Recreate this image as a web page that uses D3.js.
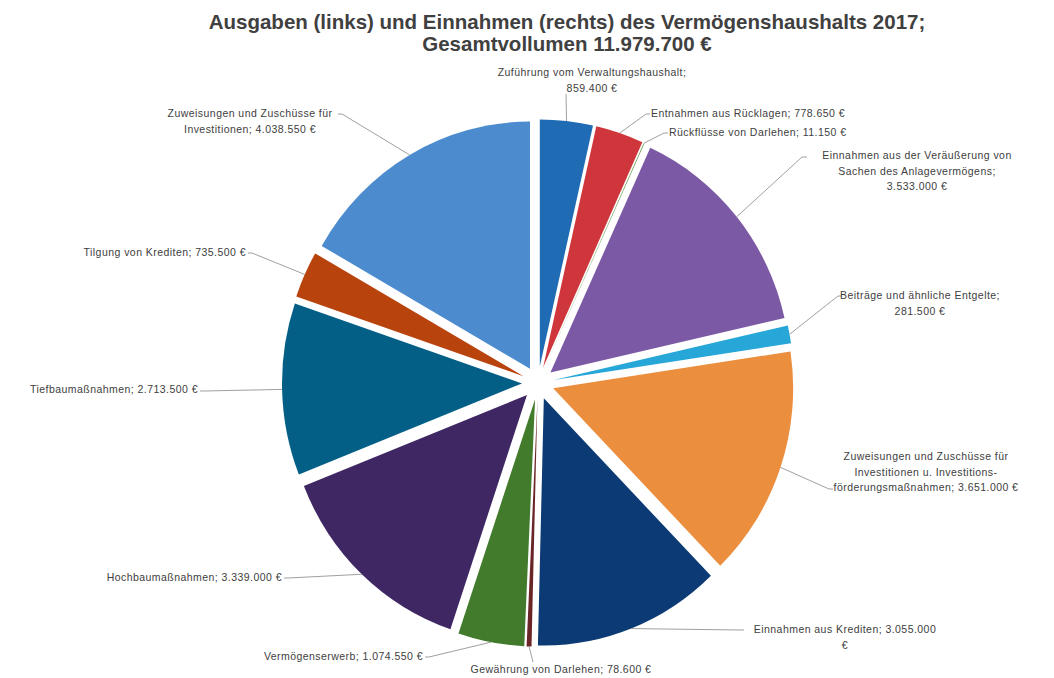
<!DOCTYPE html>
<html>
<head>
<meta charset="utf-8">
<script src="https://cdn.jsdelivr.net/npm/d3@7"></script>
<style>
  html, body { margin: 0; padding: 0; background: #ffffff; }
  svg { display: block; }
</style>
</head>
<body>
<svg id="chart" width="1054" height="678"></svg>
<script>
// ---- data ----
const titleLines = ["Ausgaben (links) und Einnahmen (rechts) des Vermögenshaushalts 2017;",
                    "Gesamtvollumen 11.979.700 €"];
const categories = [
  "Zuführung vom Verwaltungshaushalt",
  "Entnahmen aus Rücklagen",
  "Rückflüsse von Darlehen",
  "Einnahmen aus der Veräußerung von Sachen des Anlagevermögens",
  "Beiträge und ähnliche Entgelte",
  "Zuweisungen und Zuschüsse für Investitionen u. Investitionsförderungsmaßnahmen",
  "Einnahmen aus Krediten",
  "Gewährung von Darlehen",
  "Vermögenserwerb",
  "Hochbaumaßnahmen",
  "Tiefbaumaßnahmen",
  "Tilgung von Krediten",
  "Zuweisungen und Zuschüsse für Investitionen"
];
const values = [859400, 778650, 11150, 3533000, 281500, 3651000, 3055000,
                78600, 1074550, 3339000, 2713500, 735500, 4038550];
// label text lines (value is appended where {v} appears)
const labelLines = [
  ["Zuführung vom Verwaltungshaushalt;", "{v}"],
  ["Entnahmen aus Rücklagen;  {v}"],
  ["Rückflüsse von Darlehen;  {v}"],
  ["Einnahmen aus der Veräußerung von", "Sachen des Anlagevermögens;", "{v}"],
  ["Beiträge und ähnliche Entgelte;", "{v}"],
  ["Zuweisungen und Zuschüsse für", "Investitionen u. Investitions-", "förderungsmaßnahmen;  {v}"],
  ["Einnahmen aus Krediten;  {v0}", "€"],
  ["Gewährung von Darlehen;  {v}"],
  ["Vermögenserwerb;  {v}"],
  ["Hochbaumaßnahmen;  {v}"],
  ["Tiefbaumaßnahmen;  {v}"],
  ["Tilgung von Krediten;  {v}"],
  ["Zuweisungen und Zuschüsse für", "Investitionen;  {v}"]
];

// ---- styles / layout ----
const colors = ["#1f6cb4", "#cf363c", "#4f8a2e", "#7b59a5", "#27a6d8", "#eb8e3e", "#0b3a74",
                "#6a2626", "#437b2d", "#3e2763", "#035f86", "#b8430d", "#4c8cce"];
// label placement: text x, first baseline y, anchor, leader end point
const labelLayout = [
  {x: 592, y: 76,  a: "middle", ex: 566, ey: 94,  hx: 0},
  {x: 651, y: 117, a: "start",  ex: 646, ey: 114, hx: 4},
  {x: 669, y: 136, a: "start",  ex: 664, ey: 133, hx: 4},
  {x: 917, y: 159, a: "middle", ex: 802, ey: 157, hx: 5},
  {x: 920, y: 299, a: "middle", ex: 838, ey: 296, hx: 4},
  {x: 926, y: 460, a: "middle", ex: 829, ey: 489, hx: 4},
  {x: 845, y: 633, a: "middle", ex: 740, ey: 630, hx: 4},
  {x: 561, y: 673, a: "middle", ex: 533, ey: 662, hx: 0},
  {x: 423, y: 660, a: "end",    ex: 429, ey: 657, hx: -4},
  {x: 282, y: 581, a: "end",    ex: 288, ey: 578, hx: -4},
  {x: 198, y: 393, a: "end",    ex: 204, ey: 391, hx: -4},
  {x: 246, y: 256, a: "end",    ex: 252, ey: 253, hx: -4},
  {x: 250, y: 117, a: "middle", ex: 342, ey: 114, hx: -4}
];

const cx = 538, cy = 383, R = 240, explode = 16, sy = 1.03;
const textColor = "#404040", leaderColor = "#a0a0a0";
const labelFont = "'Liberation Sans Narrow', 'Liberation Sans', Arial, sans-serif";

const de = d3.formatLocale({decimal: ",", thousands: ".", grouping: [3], currency: ["", " €"]});
const fmt = de.format(",d");

const svg = d3.select("#chart");

// title
svg.append("g").selectAll("text").data(titleLines).join("text")
  .attr("x", 567).attr("y", (d, i) => 29 + i * 22)
  .attr("text-anchor", "middle")
  .attr("font-family", "'Liberation Sans', Arial, sans-serif")
  .attr("font-weight", "bold").attr("font-size", 20.5)
  .attr("fill", textColor)
  .text(d => d);

// pie
const pie = d3.pie().sort(null).value(d => d)(values);
const arc = d3.arc().innerRadius(0).outerRadius(R);
const mid = d => (d.startAngle + d.endAngle) / 2;

const g = svg.append("g").attr("transform", `translate(${cx},${cy}) scale(1,${sy})`);
g.selectAll("path").data(pie).join("path")
  .attr("d", arc)
  .attr("fill", (d, i) => colors[i])
  .attr("transform", d => `translate(${explode * Math.sin(mid(d))},${-explode * Math.cos(mid(d))})`);

// leader lines
const leaders = svg.append("g");
pie.forEach((d, i) => {
  const m = mid(d);
  const sx = cx + (R + explode) * Math.sin(m);
  const syy = cy - (R + explode) * Math.cos(m) * sy;
  const L = labelLayout[i];
  const pts = [[sx, syy], [L.ex, L.ey]];
  if (L.hx) pts.push([L.ex + L.hx, L.ey]);
  leaders.append("path")
    .attr("d", d3.line()(pts))
    .attr("fill", "none")
    .attr("stroke", leaderColor)
    .attr("stroke-width", 1);
});

// labels
const labels = svg.append("g")
  .attr("font-family", labelFont).attr("font-size", 10.5)
  .attr("letter-spacing", 0.45).attr("fill", textColor);
labelLines.forEach((lines, i) => {
  const L = labelLayout[i];
  const t = labels.append("text").attr("text-anchor", L.a);
  lines.forEach((ln, j) => {
    const s = ln.replace("{v0}", fmt(values[i])).replace("{v}", fmt(values[i]) + " €");
    t.append("tspan").attr("x", L.x).attr("y", L.y + j * 15.5).text(s);
  });
});
</script>
</body>
</html>
